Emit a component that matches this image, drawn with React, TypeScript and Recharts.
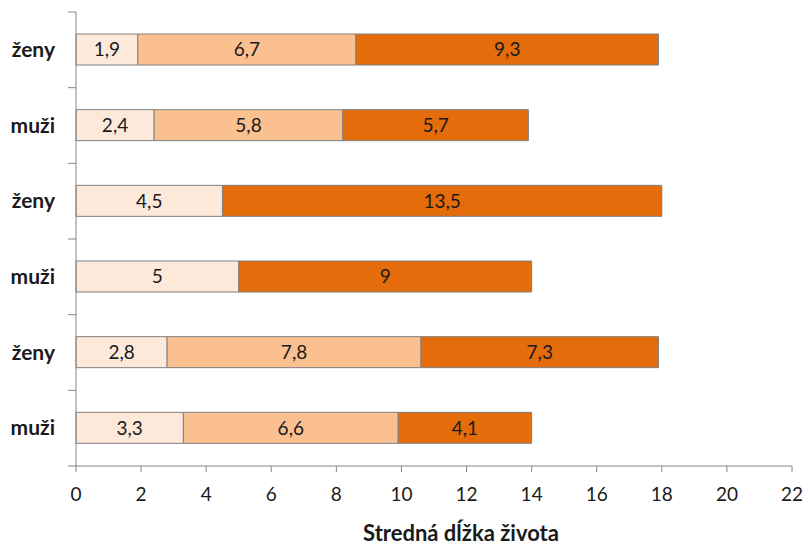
import { BarChart, Bar, XAxis, YAxis, LabelList } from 'recharts';

const categories = ['ženy', 'muži', 'ženy', 'muži', 'ženy', 'muži'];
const seriesA = [1.9, 2.4, 4.5, 5, 2.8, 3.3];
const seriesB = [6.7, 5.8, 0, 0, 7.8, 6.6];
const seriesC = [9.3, 5.7, 13.5, 9, 7.3, 4.1];
const xTicks = [0, 2, 4, 6, 8, 10, 12, 14, 16, 18, 20, 22];

const data = categories.map((c, i) => ({
  id: i,
  label: c,
  a: seriesA[i],
  b: seriesB[i],
  c: seriesC[i],
}));

const W = 807;
const H = 547;
const TOP = 12;
const BOTTOM = 81;
const BAND = (H - TOP - BOTTOM) / categories.length;
const FONT = 'Lato, "Open Sans", sans-serif';
const AXIS = '#868686';

const fmt = (v: any) => (v ? String(v).replace('.', ',') : '');

// category label plus a tick mark on the band boundary (Excel style)
function CategoryTick(props: any) {
  const { x, y, payload, index } = props;
  const axisX = x + 21;
  return (
    <g>
      <line x1={axisX - 8} x2={axisX} y1={y - BAND / 2} y2={y - BAND / 2} stroke={AXIS} />
      {index === categories.length - 1 && (
        <line x1={axisX - 8} x2={axisX} y1={y + BAND / 2} y2={y + BAND / 2} stroke={AXIS} />
      )}
      <text
        x={x}
        y={y}
        dy={7}
        textAnchor="end"
        fontFamily={FONT}
        fontWeight={700}
        fontSize={21}
        fill="#1a1a1a"
      >
        {categories[payload.value]}
      </text>
    </g>
  );
}

export default function App() {
  const labelStyle = { fontSize: 19, fill: '#1a1a1a', fontFamily: FONT };
  return (
    <div style={{ position: 'absolute', left: 0, top: 0, width: W, height: H, background: '#fff' }}>
      <BarChart
        width={W}
        height={H}
        data={data}
        layout="vertical"
        margin={{ top: TOP, right: 15, bottom: 0, left: 0 }}
        barSize={31}
      >
        <XAxis
          type="number"
          domain={[0, 22]}
          ticks={xTicks}
          interval={0}
          height={BOTTOM}
          tickSize={6}
          tickMargin={16}
          stroke={AXIS}
          tick={{ fontSize: 19, fill: '#1a1a1a', fontFamily: FONT }}
          label={{
            value: 'Stredná dĺžka života',
            position: 'insideBottom',
            offset: 6,
            dx: 27,
            style: { fontSize: 22, fontWeight: 700, fill: '#1a1a1a', fontFamily: FONT },
          }}
        />
        <YAxis
          type="category"
          dataKey="id"
          width={76}
          tickSize={8}
          tickMargin={13}
          tickLine={false}
          stroke={AXIS}
          interval={0}
          tick={<CategoryTick />}
        />
        <Bar dataKey="a" stackId="s" fill="#FDE9D9" stroke="#808080" strokeWidth={1} isAnimationActive={false}>
          <LabelList dataKey="a" position="center" formatter={fmt} style={labelStyle} />
        </Bar>
        <Bar dataKey="b" stackId="s" fill="#FAC090" stroke="#808080" strokeWidth={1} isAnimationActive={false}>
          <LabelList dataKey="b" position="center" formatter={fmt} style={labelStyle} />
        </Bar>
        <Bar dataKey="c" stackId="s" fill="#E46C0A" stroke="#808080" strokeWidth={1} isAnimationActive={false}>
          <LabelList dataKey="c" position="center" formatter={fmt} style={labelStyle} />
        </Bar>
      </BarChart>
    </div>
  );
}
